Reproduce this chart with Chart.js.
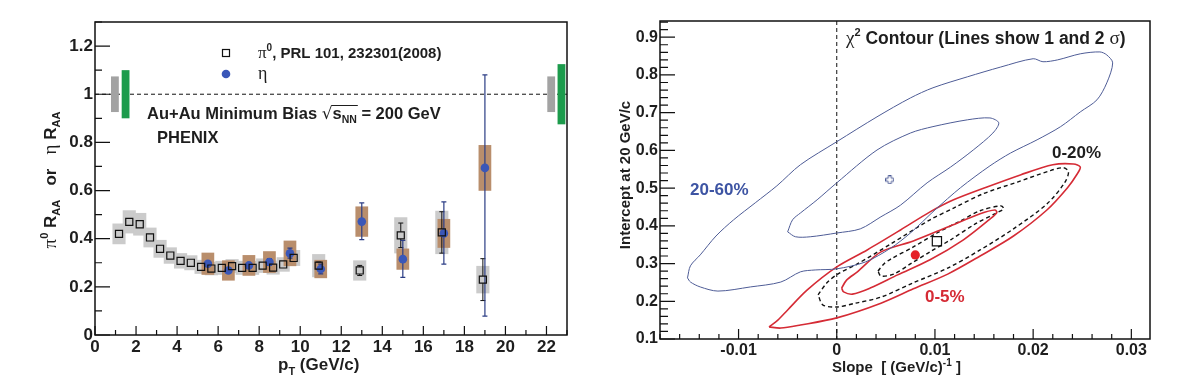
<!DOCTYPE html>
<html>
<head>
<meta charset="utf-8">
<script src="https://cdn.jsdelivr.net/npm/chart.js@4"></script>
<style>
    body { margin: 0; background: #fff; }
    #wrap { display: flex; width: 1199px; height: 391px; }
    canvas { display: block; }
</style>
</head>
<body>
<div id="wrap">
    <canvas id="raaChart" width="600" height="391"></canvas>
    <canvas id="contourChart" width="599" height="391"></canvas>
</div>
<script>
// ---------- left panel: R_AA vs pT ----------
const pi0Pt = [1.17, 1.67, 2.18, 2.68, 3.17, 3.67, 4.17, 4.67, 5.17, 5.67, 6.18, 6.68, 7.17, 7.68, 8.17, 8.68, 9.17, 9.68, 10.9, 12.9, 14.9, 16.9, 18.9]
const pi0Raa = [0.42, 0.47, 0.46, 0.405, 0.358, 0.33, 0.308, 0.30, 0.283, 0.276, 0.279, 0.286, 0.279, 0.279, 0.288, 0.28, 0.293, 0.32, 0.288, 0.268, 0.414, 0.426, 0.23]
const pi0Stat = [0.006, 0.006, 0.006, 0.005, 0.005, 0.005, 0.005, 0.005, 0.005, 0.005, 0.006, 0.006, 0.006, 0.007, 0.008, 0.008, 0.01, 0.012, 0.015, 0.021, 0.051, 0.086, 0.087]
const pi0Sys = [0.043, 0.048, 0.047, 0.041, 0.037, 0.034, 0.032, 0.031, 0.029, 0.028, 0.029, 0.029, 0.029, 0.029, 0.03, 0.029, 0.03, 0.033, 0.048, 0.042, 0.075, 0.09, 0.057]

const etaPt = [5.5, 6.5, 7.5, 8.5, 9.5, 11, 13, 15, 17, 19]
const etaRaa = [0.296, 0.268, 0.289, 0.303, 0.339, 0.274, 0.471, 0.315, 0.422, 0.694]
const etaStatLow = [0.012, 0.012, 0.012, 0.014, 0.02, 0.02, 0.075, 0.076, 0.128, 0.616]
const etaStatHigh = [0.012, 0.012, 0.012, 0.014, 0.022, 0.02, 0.078, 0.078, 0.131, 0.386]
const etaSys = [0.046, 0.042, 0.043, 0.045, 0.053, 0.038, 0.063, 0.044, 0.06, 0.095]

// global normalisation uncertainties around R_AA = 1
const normPt = [0.97, 1.49, 22.23, 22.73]
const normErr = [0.074, 0.1, 0.074, 0.125]
const normKind = ["pi0", "eta", "pi0", "eta"]

// ---------- right panel: chi2 contours, [slope, intercept] ----------
const periph2Sigma = [[-0.0152, 0.262], [-0.0149, 0.294], [-0.0139, 0.323], [-0.0123, 0.373], [-0.0105, 0.416], [-0.0083, 0.461], [-0.0061, 0.506], [-0.0037, 0.562], [0.0, 0.623], [0.0041, 0.689], [0.0075, 0.739], [0.0098, 0.766], [0.0133, 0.795], [0.0167, 0.821], [0.02, 0.843], [0.021, 0.835], [0.0225, 0.84], [0.0248, 0.856], [0.0268, 0.861], [0.0275, 0.853], [0.0281, 0.832], [0.0275, 0.779], [0.0265, 0.734], [0.0248, 0.702], [0.0228, 0.663], [0.0204, 0.628], [0.0177, 0.593], [0.0156, 0.559], [0.0126, 0.501], [0.01, 0.442], [0.0075, 0.381], [0.0055, 0.341], [0.0029, 0.304], [0.0, 0.286], [-0.0022, 0.283], [-0.0037, 0.278], [-0.0057, 0.251], [-0.0088, 0.238], [-0.0121, 0.227], [-0.0139, 0.238], [-0.0149, 0.251], [-0.0152, 0.262]]
const periph1Sigma = [[-0.005, 0.384], [-0.0045, 0.416], [-0.0037, 0.434], [-0.002, 0.469], [0.0, 0.514], [0.0041, 0.601], [0.0075, 0.646], [0.0098, 0.663], [0.0133, 0.681], [0.0156, 0.686], [0.0165, 0.673], [0.0159, 0.646], [0.0139, 0.601], [0.0116, 0.556], [0.0092, 0.514], [0.0065, 0.455], [0.0045, 0.424], [0.0024, 0.392], [0.0, 0.381], [-0.0027, 0.371], [-0.0042, 0.371], [-0.005, 0.384]]
const central2Sigma = [[-0.0069, 0.132], [-0.006, 0.15], [-0.005, 0.177], [-0.003, 0.23], [0.0, 0.291], [0.0031, 0.336], [0.0065, 0.389], [0.0095, 0.437], [0.0119, 0.469], [0.0153, 0.503], [0.0187, 0.535], [0.022, 0.562], [0.0241, 0.564], [0.0248, 0.556], [0.0245, 0.538], [0.0235, 0.501], [0.0214, 0.442], [0.018, 0.373], [0.0146, 0.32], [0.0113, 0.272], [0.0078, 0.233], [0.0045, 0.195], [0.0, 0.156], [-0.0037, 0.137], [-0.0057, 0.129], [-0.0069, 0.132]]
const central1Sigma = [[0.0005, 0.235], [0.001, 0.256], [0.0021, 0.278], [0.0045, 0.331], [0.0078, 0.36], [0.0113, 0.397], [0.0146, 0.432], [0.0161, 0.442], [0.0163, 0.435], [0.0156, 0.418], [0.0129, 0.363], [0.0095, 0.31], [0.0062, 0.27], [0.0034, 0.235], [0.0016, 0.219], [0.0007, 0.225], [0.0005, 0.235]]
const mid2Sigma = [[-0.0019, 0.217], [-0.001, 0.249], [0.0001, 0.272], [0.0021, 0.299], [0.0055, 0.352], [0.0095, 0.416], [0.0119, 0.447], [0.0149, 0.485], [0.0184, 0.516], [0.0217, 0.546], [0.0231, 0.554], [0.0236, 0.543], [0.0232, 0.514], [0.0214, 0.458], [0.018, 0.392], [0.0146, 0.336], [0.0113, 0.288], [0.0078, 0.249], [0.0045, 0.211], [0.0019, 0.195], [0.0001, 0.185], [-0.0014, 0.19], [-0.0019, 0.217]]
const mid1Sigma = [[0.0042, 0.28], [0.0048, 0.299], [0.0055, 0.312], [0.0078, 0.344], [0.0102, 0.381], [0.0126, 0.413], [0.0146, 0.44], [0.0167, 0.453], [0.017, 0.445], [0.0161, 0.432], [0.0141, 0.405], [0.0116, 0.363], [0.0095, 0.331], [0.0075, 0.299], [0.0058, 0.272], [0.0045, 0.267], [0.0042, 0.28]]

const periphBest = [0.0054, 0.522]
const centralBest = [0.008, 0.323]
const midBest = [0.0102, 0.359]

// ---------- drawing helpers ----------
const SANS = "'Liberation Sans', Arial, Helvetica, sans-serif"
const SERIF = "'Liberation Serif', 'DejaVu Serif', serif"
const bold = size => "bold " + size + "px " + SANS
const greek = size => size + "px " + SERIF
const INK = "#1e1e1e"
const ETA_BLUE = "#3A57B8"

const drawSegments = (ctx, x, y, segs, align) => {
    let total = 0
    segs.forEach(s => { ctx.font = s.font; s.w = ctx.measureText(s.text).width; total += s.w })
    let cx = align === "center" ? x - total / 2 : x
    ctx.textAlign = "left"
    ctx.textBaseline = "alphabetic"
    segs.forEach(s => {
        ctx.font = s.font
        ctx.fillStyle = s.color || INK
        ctx.fillText(s.text, cx, y + (s.dy || 0))
        s.x = cx
        cx += s.w
    })
    return segs
}

const drawRotated = (ctx, x, y, segs) => {
    ctx.save()
    ctx.translate(x, y)
    ctx.rotate(-Math.PI / 2)
    drawSegments(ctx, 0, 0, segs, "center")
    ctx.restore()
}

const fillBox = (ctx, xs, ys, cx, cy, hw, hh) => {
    const x0 = xs.getPixelForValue(cx - hw)
    const x1 = xs.getPixelForValue(cx + hw)
    const y0 = ys.getPixelForValue(cy + hh)
    const y1 = ys.getPixelForValue(cy - hh)
    ctx.fillRect(x0, y0, x1 - x0, y1 - y0)
}

// error bar drawn only outside the marker, like ROOT does
const errorBar = (ctx, xs, ys, px, py, low, high, gap) => {
    const x = xs.getPixelForValue(px)
    const yc = ys.getPixelForValue(py)
    const yTop = ys.getPixelForValue(py + high)
    const yBot = ys.getPixelForValue(py - low)
    ctx.beginPath()
    if (yTop < yc - gap) {
        ctx.moveTo(x, yc - gap); ctx.lineTo(x, yTop)
        ctx.moveTo(x - 2.5, yTop); ctx.lineTo(x + 2.5, yTop)
    }
    if (yBot > yc + gap) {
        ctx.moveTo(x, yc + gap); ctx.lineTo(x, yBot)
        ctx.moveTo(x - 2.5, yBot); ctx.lineTo(x + 2.5, yBot)
    }
    ctx.stroke()
}

// ROOT style frame with inward ticks
const drawFrame = (chart, t) => {
    const { ctx, chartArea: a, scales: { x, y } } = chart
    ctx.save()
    ctx.strokeStyle = "#111"
    ctx.lineWidth = 1.2
    ctx.beginPath()
    for (let k = Math.ceil(x.min / t.xMinor - 1e-6); k <= Math.floor(x.max / t.xMinor + 1e-6); k++) {
        const p = x.getPixelForValue(k * t.xMinor)
        ctx.moveTo(p, a.bottom)
        ctx.lineTo(p, a.bottom - (k % t.xRatio === 0 ? t.xMajorLen : t.xMinorLen))
    }
    for (let k = Math.ceil(y.min / t.yMinor - 1e-6); k <= Math.floor(y.max / t.yMinor + 1e-6); k++) {
        const p = y.getPixelForValue(k * t.yMinor)
        ctx.moveTo(a.left, p)
        ctx.lineTo(a.left + (k % t.yRatio === 0 ? t.yMajorLen : t.yMinorLen), p)
    }
    ctx.stroke()
    ctx.lineWidth = 1.5
    ctx.strokeRect(a.left, a.top, a.right - a.left, a.bottom - a.top)
    ctx.restore()
}

const raaDecor = {
    id: "raaDecor",
    beforeDatasetsDraw(chart) {
        const { ctx, chartArea: a, scales: { x, y } } = chart
        ctx.save()
        // unity line
        ctx.strokeStyle = "#111"
        ctx.lineWidth = 1
        ctx.setLineDash([4, 3])
        ctx.beginPath()
        ctx.moveTo(a.left, y.getPixelForValue(1))
        ctx.lineTo(a.right, y.getPixelForValue(1))
        ctx.stroke()
        ctx.setLineDash([])

        normPt.forEach((pt, i) => {
            ctx.fillStyle = normKind[i] === "pi0" ? "#A3A3A3" : "#1C9B4C"
            fillBox(ctx, x, y, pt, 1, 0.19, normErr[i])
        })
        ctx.fillStyle = "#CBCBCB"
        pi0Pt.forEach((pt, i) => fillBox(ctx, x, y, pt, pi0Raa[i], 0.32, pi0Sys[i]))
        ctx.fillStyle = "#B98E6C"
        etaPt.forEach((pt, i) => fillBox(ctx, x, y, pt, etaRaa[i], 0.31, etaSys[i]))

        ctx.lineWidth = 1
        ctx.strokeStyle = "#111"
        pi0Pt.forEach((pt, i) => errorBar(ctx, x, y, pt, pi0Raa[i], pi0Stat[i], pi0Stat[i], 3.5))
        ctx.lineWidth = 1.2
        ctx.strokeStyle = "#2B3D85"
        etaPt.forEach((pt, i) => errorBar(ctx, x, y, pt, etaRaa[i], etaStatLow[i], etaStatHigh[i], 3))
        ctx.restore()
    },
    afterDraw(chart) {
        const { ctx } = chart
        drawFrame(chart, { xMinor: 1, xRatio: 2, xMajorLen: 9, xMinorLen: 5, yMinor: 0.1, yRatio: 2, yMajorLen: 15, yMinorLen: 7 })
        ctx.save()
        // legend
        ctx.strokeStyle = "#111"
        ctx.lineWidth = 1.2
        ctx.strokeRect(222.5, 49.5, 7, 7)
        ctx.fillStyle = ETA_BLUE
        ctx.beginPath()
        ctx.arc(226, 74, 4.3, 0, 2 * Math.PI)
        ctx.fill()
        drawSegments(ctx, 258, 58, [
            { text: "\u03c0", font: greek(17) },
            { text: "0", font: bold(10), dy: -7 },
            { text: ", PRL 101, 232301(2008)", font: bold(15) }
        ])
        drawSegments(ctx, 258, 79, [{ text: "\u03b7", font: greek(18) }])

        const segs = drawSegments(ctx, 147, 119, [
            { text: "Au+Au Minimum Bias ", font: bold(16.5) },
            { text: "\u221a", font: "17px 'DejaVu Sans', sans-serif" },
            { text: "s", font: bold(16.5) },
            { text: "NN", font: bold(10.5), dy: 4 },
            { text: " = 200 GeV", font: bold(16.5) }
        ])
        ctx.strokeStyle = INK
        ctx.lineWidth = 1
        ctx.beginPath()
        ctx.moveTo(segs[2].x - 1, 105.5)
        ctx.lineTo(segs[3].x + segs[3].w + 1, 105.5)
        ctx.stroke()
        drawSegments(ctx, 157, 143, [{ text: "PHENIX", font: bold(16.5) }])

        // axis titles
        drawRotated(ctx, 56, 180, [
            { text: "\u03c0", font: greek(19) },
            { text: "0", font: bold(11), dy: -8 },
            { text: " R", font: bold(17) },
            { text: "AA", font: bold(11), dy: 4 },
            { text: "   or   ", font: bold(17) },
            { text: "\u03b7", font: greek(19) },
            { text: " R", font: bold(17) },
            { text: "AA", font: bold(11), dy: 4 }
        ])
        drawSegments(ctx, 278, 370, [
            { text: "p", font: bold(17) },
            { text: "T", font: bold(11), dy: 5 },
            { text: " (GeV/c)", font: bold(17) }
        ])
        ctx.restore()
    }
}

const contourDecor = {
    id: "contourDecor",
    beforeDatasetsDraw(chart) {
        const { ctx, chartArea: a, scales: { x } } = chart
        ctx.save()
        ctx.strokeStyle = "#111"
        ctx.lineWidth = 1
        ctx.setLineDash([4, 3])
        ctx.beginPath()
        ctx.moveTo(x.getPixelForValue(0), a.top)
        ctx.lineTo(x.getPixelForValue(0), a.bottom)
        ctx.stroke()
        ctx.restore()
    },
    afterDraw(chart) {
        const { ctx } = chart
        drawFrame(chart, { xMinor: 0.002, xRatio: 5, xMajorLen: 10, xMinorLen: 5, yMinor: 0.02, yRatio: 5, yMajorLen: 15, yMinorLen: 8 })
        ctx.save()
        drawSegments(ctx, 246, 44, [
            { text: "\u03c7", font: greek(19) },
            { text: "2", font: bold(11), dy: -8 },
            { text: " Contour (Lines show 1 and 2 ", font: bold(17.5) },
            { text: "\u03c3", font: greek(19) },
            { text: ")", font: bold(17.5) }
        ])
        drawSegments(ctx, 90, 195, [{ text: "20-60%", font: bold(17), color: "#3D54A3" }])
        drawSegments(ctx, 452, 158, [{ text: "0-20%", font: bold(17) }])
        drawSegments(ctx, 325, 302, [{ text: "0-5%", font: bold(17), color: "#D52B35" }])
        drawRotated(ctx, 30, 175, [{ text: "Intercept at 20 GeV/c", font: bold(15) }])
        drawSegments(ctx, 232, 372, [
            { text: "Slope  [ (GeV/c)", font: bold(15) },
            { text: "-1", font: bold(10), dy: -6 },
            { text: " ]", font: bold(15) }
        ])
        ctx.restore()
    }
}

const makeOpenCross = (size, color) => {
    const c = document.createElement("canvas")
    c.width = size
    c.height = size
    const g = c.getContext("2d")
    const t = size / 3
    const pts = [[t, 0], [2 * t, 0], [2 * t, t], [size, t], [size, 2 * t], [2 * t, 2 * t], [2 * t, size], [t, size], [t, 2 * t], [0, 2 * t], [0, t], [t, t]]
    g.strokeStyle = color
    g.lineWidth = 1
    g.beginPath()
    pts.forEach((p, i) => {
        const px = Math.min(Math.max(p[0], 0.5), size - 0.5)
        const py = Math.min(Math.max(p[1], 0.5), size - 0.5)
        i === 0 ? g.moveTo(px, py) : g.lineTo(px, py)
    })
    g.closePath()
    g.stroke()
    return c
}

const tickFont = size => ({ family: SANS, size: size, weight: "bold" })

const axis = (min, max, step, fitSize, isX, fontSize, pad) => ({
    type: "linear",
    min: min,
    max: max,
    afterFit: s => { if (isX) { s.height = fitSize } else { s.width = fitSize } },
    grid: { display: false, drawTicks: false },
    border: { display: false },
    ticks: {
        stepSize: step,
        autoSkip: false,
        includeBounds: false,
        maxRotation: 0,
        padding: pad,
        color: INK,
        font: tickFont(fontSize),
        callback: v => String(+v.toFixed(3))
    }
})

// ---------- left chart ----------
new Chart(document.getElementById("raaChart").getContext("2d"), {
    type: "scatter",
    data: {
        datasets: [
            {
                label: "pi0",
                data: pi0Pt.map((pt, i) => ({ x: pt, y: pi0Raa[i] })),
                pointStyle: "rect",
                pointRadius: 5,
                borderColor: "#111",
                borderWidth: 1.2,
                backgroundColor: "rgba(0,0,0,0)"
            },
            {
                label: "eta",
                data: etaPt.map((pt, i) => ({ x: pt, y: etaRaa[i] })),
                pointStyle: "circle",
                pointRadius: 4.3,
                borderWidth: 0,
                backgroundColor: ETA_BLUE
            }
        ]
    },
    options: {
        responsive: false,
        animation: false,
        events: [],
        devicePixelRatio: 1,
        layout: { padding: { top: 22, right: 33, left: 0, bottom: 0 } },
        plugins: { legend: { display: false }, tooltip: { enabled: false } },
        scales: {
            x: axis(0, 23, 2, 56, true, 17, 2),
            y: axis(0, 1.3, 0.2, 95, false, 17, 2)
        }
    },
    plugins: [raaDecor]
})

// ---------- right chart ----------
const toPoints = arr => arr.map(p => ({ x: p[0], y: p[1] }))
const contour = (label, arr, color, width, dash) => ({
    label: label,
    data: toPoints(arr),
    showLine: true,
    fill: false,
    tension: 0.3,
    pointRadius: 0,
    borderColor: color,
    borderWidth: width,
    borderDash: dash || []
})

new Chart(document.getElementById("contourChart").getContext("2d"), {
    type: "scatter",
    data: {
        datasets: [
            contour("20-60% 2 sigma", periph2Sigma, "#4E5C96", 1),
            contour("20-60% 1 sigma", periph1Sigma, "#4E5C96", 1),
            contour("0-5% 2 sigma", central2Sigma, "#D52B35", 1.6),
            contour("0-5% 1 sigma", central1Sigma, "#D52B35", 1.6),
            contour("0-20% 2 sigma", mid2Sigma, "#111", 1.4, [4, 3]),
            contour("0-20% 1 sigma", mid1Sigma, "#111", 1.4, [4, 3]),
            {
                label: "20-60% best",
                data: toPoints([periphBest]),
                pointStyle: makeOpenCross(9, "#4E5C96"),
                pointRadius: 5
            },
            {
                label: "0-5% best",
                data: toPoints([centralBest]),
                pointStyle: "circle",
                pointRadius: 4.6,
                borderWidth: 0,
                backgroundColor: "#E52228"
            },
            {
                label: "0-20% best",
                data: toPoints([midBest]),
                pointStyle: "rect",
                pointRadius: 6.5,
                borderWidth: 1.2,
                borderColor: "#111",
                backgroundColor: "rgba(0,0,0,0)"
            }
        ]
    },
    options: {
        responsive: false,
        animation: false,
        events: [],
        devicePixelRatio: 1,
        layout: { padding: { top: 21, right: 49, left: 0, bottom: 0 } },
        plugins: { legend: { display: false }, tooltip: { enabled: false } },
        scales: {
            x: axis(-0.018, 0.0319, 0.01, 52, true, 16, 2),
            y: axis(0.1, 0.943, 0.1, 60, false, 16, 2)
        }
    },
    plugins: [contourDecor]
})
</script>
</body>
</html>
